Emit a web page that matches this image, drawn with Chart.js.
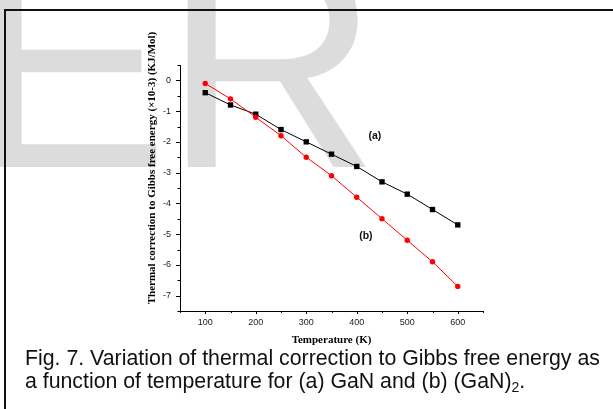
<!DOCTYPE html>
<html>
<head>
<meta charset="utf-8">
<script src="https://cdn.jsdelivr.net/npm/chart.js@4.4.1/dist/chart.umd.min.js"></script>
<style>
  html, body { margin: 0; padding: 0; background: #fff; }
  #page { position: relative; width: 613px; height: 409px; overflow: hidden; background: #fff; }
  #mark {
    position: absolute; left: -31px; top: -87px;
    font: 300px 'Liberation Sans', Arial, sans-serif;
    line-height: 300px; letter-spacing: -6px;
    color: #dcdcdc; white-space: nowrap; z-index: 0;
  }
  #chart { position: absolute; left: 0; top: 0; z-index: 1; }
  #frame {
    position: absolute; left: 4px; top: 9px; right: -10px; bottom: -10px;
    border-top: 2px solid #111; border-left: 2px solid #111; z-index: 2;
  }
  #caption {
    position: absolute; left: 25px; top: 346.6px; z-index: 3;
    font-family: 'Liberation Sans', Arial, sans-serif;
    font-size: 21.3px; line-height: 23.5px; color: #111; white-space: nowrap;
  }
  #caption sub { font-size: 14px; vertical-align: -4px; line-height: 0; }
</style>
</head>
<body>
<div id="page">
  <div id="mark">ER</div>
  <canvas id="chart" width="613" height="409"></canvas>
  <div id="frame"></div>
  <div id="caption">Fig. 7. Variation of thermal correction to Gibbs free energy as<br>a function of temperature for (a) GaN and (b) (GaN)<sub>2</sub>.</div>
</div>
<script>
// temperatures (K)
const temps = [100, 150, 200, 250, 300, 350, 400, 450, 500, 550, 600];
// (a) GaN
const gan = [-0.4, -0.8, -1.1, -1.6, -2.0, -2.4, -2.8, -3.3, -3.7, -4.2, -4.7];
// (b) (GaN)2
const gan2 = [-0.1, -0.6, -1.2, -1.8, -2.5, -3.1, -3.8, -4.5, -5.2, -5.9, -6.7];
const seriesNames = ['(a)', '(b)'];
const xTitle = 'Temperature (K)';
const yTitle = 'Thermal correction to Gibbs free energy (\u00d710-3) (KJ/Mol)';

const sans = "'Liberation Sans', Arial, sans-serif";
const serif = "'Liberation Serif', 'Times New Roman', serif";

// tick marks: long at labelled values, short in between
const tickMarks = {
  id: 'tickMarks',
  afterDraw(chart) {
    const ctx = chart.ctx;
    const xs = chart.scales.x, ys = chart.scales.y;
    ctx.save();
    ctx.strokeStyle = '#000';
    ctx.lineWidth = 1;
    xs.ticks.forEach(t => {
      const px = Math.round(xs.getPixelForValue(t.value)) + 0.5;
      const len = t.value % 100 === 0 ? 3 : 2;
      ctx.beginPath();
      ctx.moveTo(px, xs.top);
      ctx.lineTo(px, xs.top + len);
      ctx.stroke();
    });
    ys.ticks.forEach(t => {
      const py = Math.round(ys.getPixelForValue(t.value)) + 0.5;
      const len = Number.isInteger(t.value) ? 4 : 2.5;
      ctx.beginPath();
      ctx.moveTo(ys.right, py);
      ctx.lineTo(ys.right - len, py);
      ctx.stroke();
    });
    ctx.restore();
  }
};

// y title and series labels
const notes = {
  id: 'notes',
  afterDraw(chart) {
    const ctx = chart.ctx;
    const area = chart.chartArea;
    const xs = chart.scales.x, ys = chart.scales.y;
    ctx.save();
    ctx.fillStyle = '#000';
    ctx.translate(area.left - 27.5, area.top + 103);
    ctx.rotate(-Math.PI / 2);
    ctx.font = 'bold 11px ' + serif;
    ctx.textAlign = 'center';
    ctx.textBaseline = 'middle';
    ctx.fillText(yTitle, 0, 0);
    ctx.restore();

    ctx.save();
    ctx.fillStyle = '#111';
    ctx.font = 'bold 10.5px ' + sans;
    ctx.textAlign = 'center';
    ctx.textBaseline = 'middle';
    ctx.fillText(seriesNames[0], xs.getPixelForValue(436), ys.getPixelForValue(-1.8));
    ctx.fillText(seriesNames[1], xs.getPixelForValue(418), ys.getPixelForValue(-5.05));
    ctx.restore();
  }
};

new Chart(document.getElementById('chart'), {
  type: 'line',
  data: {
    datasets: [
      {
        label: seriesNames[0],
        data: temps.map((t, i) => ({ x: t, y: gan[i] })),
        borderColor: '#000',
        backgroundColor: '#000',
        borderWidth: 1,
        pointStyle: 'rect',
        pointRadius: 3.8,
        pointBorderWidth: 0,
        order: 2
      },
      {
        label: seriesNames[1],
        data: temps.map((t, i) => ({ x: t, y: gan2[i] })),
        borderColor: '#ff0000',
        backgroundColor: '#ff0000',
        borderWidth: 1,
        pointStyle: 'circle',
        pointRadius: 2.7,
        pointBorderWidth: 0,
        order: 1
      }
    ]
  },
  options: {
    responsive: false,
    animation: false,
    layout: { padding: { left: 147, top: 65, right: 130, bottom: 62 } },
    plugins: { legend: { display: false }, tooltip: { enabled: false } },
    scales: {
      x: {
        type: 'linear',
        min: 50, max: 650,
        afterFit: s => { s.height = 36; },
        grid: { display: false, tickLength: 3 },
        border: { display: true, color: '#000', width: 1 },
        ticks: {
          stepSize: 50,
          padding: 3,
          color: '#222',
          font: { family: sans, size: 9 },
          maxRotation: 0,
          callback: v => (v % 100 === 0 && v >= 100 && v <= 600) ? String(v) : ''
        },
        title: {
          display: true, text: xTitle, color: '#000', padding: 0,
          font: { family: serif, size: 11, weight: 'bold' }
        }
      },
      y: {
        min: -7.5, max: 0.5,
        afterFit: s => { s.width = 33; },
        grid: { display: false, tickLength: 4 },
        border: { display: true, color: '#000', width: 1 },
        ticks: {
          stepSize: 0.5,
          padding: 5,
          color: '#222',
          font: { family: sans, size: 9 },
          callback: v => Number.isInteger(v) ? String(v) : ''
        }
      }
    }
  },
  plugins: [tickMarks, notes]
});
</script>
</body>
</html>
